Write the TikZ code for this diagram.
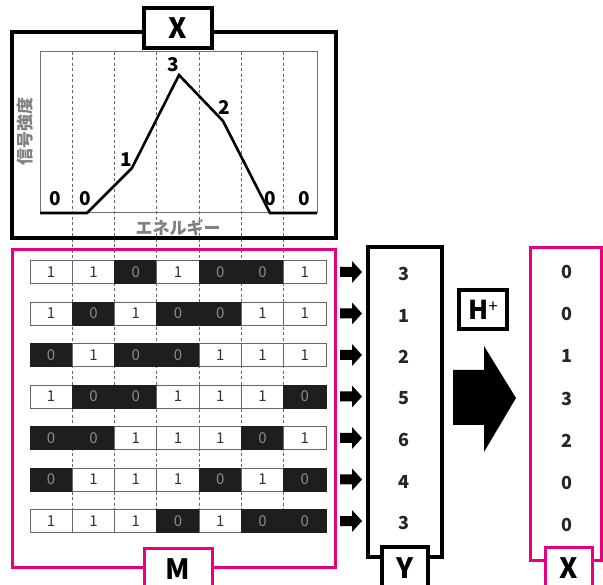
\documentclass[tikz,border=0pt]{standalone}
\usepackage{fontspec}
\setmainfont{Noto Sans CJK JP}
\definecolor{mag}{HTML}{E5007F}
\definecolor{cellblk}{HTML}{1E1E1E}
\begin{document}
\begin{tikzpicture}[x=1pt,y=-1pt,
  frame/.style={draw=black,line width=3.5pt},
  pframe/.style={draw=mag,line width=3pt},
  lab/.style={draw=black,line width=3.5pt,fill=white,inner sep=0pt,
    font=\bfseries\fontsize{28}{28}\selectfont},
  plab/.style={lab,draw=mag,line width=3pt},
  pnum/.style={font=\bfseries\fontsize{19}{19}\selectfont,inner sep=0pt},
  vnum/.style={font=\bfseries\fontsize{18}{18}\selectfont,inner sep=0pt,text=black!85},
  jlab/.style={font=\bfseries\fontsize{17}{17}\selectfont,text=black!50,inner sep=0pt},
  cellone/.style={draw=black!60,line width=0.9pt,fill=white,text=black!80,
    minimum width=42.3pt,minimum height=23pt,inner sep=0pt,font=\fontsize{15}{15}\selectfont},
  cellzero/.style={cellone,fill=cellblk,draw=cellblk,text=black!45},
  grid/.style={dashed,draw=black!60,line width=0.8pt,dash pattern=on 3pt off 2.5pt}
]
\useasboundingbox (0,0) rectangle (603,585);

% dashed guide lines
\foreach \k in {1,...,6}
  \draw[grid] ({30+42.286*\k},52) -- ({30+42.286*\k},510);

% top spectrum frame
\draw[frame] (12,32) rectangle (336,238);
\node[lab,minimum width=68pt,minimum height=40pt] (xlab) at (178,28) {X};
\draw[black!55,line width=1pt] (40,52) rectangle (317,213);
\coordinate (p0) at (40,213);
\coordinate (p1) at (87,213);
\coordinate (p2) at (132,168);
\coordinate (p3) at (179,75);
\coordinate (p4) at (223,121);
\coordinate (p5) at (270,213);
\coordinate (p6) at (317,213);
\draw[line width=2.6pt,line join=miter] (p0) -- (p1) -- (p2) -- (p3) -- (p4) -- (p5) -- (p6);
\node[pnum] (n1) at (55,199) {0};
\node[pnum] (n2) at (85,199) {0};
\node[pnum] (n3) at (126,160) {1};
\node[pnum] (n4) at (173,65) {3};
\node[pnum] (n5) at (224,107) {2};
\node[pnum] (n6) at (270,199) {0};
\node[pnum] (n7) at (304,199) {0};
\node[jlab,rotate=90] (ylabel) at (25,132) {信号強度};
\node[jlab] (xlabel) at (178,228) {エネルギー};

% matrix M
\draw[pframe] (12,250) rectangle (335,567);
\node[plab,minimum width=68pt,minimum height=42pt] (mlab) at (178,569) {M};

\foreach \row [count=\r] in {{1,1,0,1,0,0,1},{1,0,1,0,0,1,1},{0,1,0,0,1,1,1},
    {1,0,0,1,1,1,0},{0,0,1,1,1,0,1},{0,1,1,1,0,1,0},{1,1,1,0,1,0,0}} {
  \foreach \b [count=\c] in \row {
    \ifnum\b=0
      \node[cellzero] (c-\r-\c) at ({30+42.286*(\c-0.5)},{272+41.5*(\r-1)}) {0};
    \else
      \node[cellone] (c-\r-\c) at ({30+42.286*(\c-0.5)},{272+41.5*(\r-1)}) {1};
    \fi
  }
}

% Y column
\draw[frame] (368,247) rectangle (442,557);
\node[lab,minimum width=46pt,minimum height=42pt] (ylab) at (405,568) {Y};
\foreach \v [count=\r] in {3,1,2,5,6,4,3} {
  \coordinate (a-\r) at (340,{272+41.5*(\r-1)});
  \fill (a-\r) ++(0,-5) -- ++(12,0) -- ++(0,-6) -- ++(10,11) -- ++(-10,11) -- ++(0,-6) -- ++(-12,0) -- cycle;
  \node[vnum] (y-\r) at (404,{274+41.5*(\r-1)}) {\v};
}

% H+ and big arrow
\node[lab,minimum width=48pt,minimum height=39pt,font=\bfseries\fontsize{26}{26}\selectfont] (hlab) at (483,309.5)
  {H\raisebox{7pt}{\mdseries\fontsize{17}{17}\selectfont +}};
\coordinate (bt) at (516,398);
\fill (bt) -- (484,346) -- (484,370) -- (453,370) -- (453,425) -- (484,425) -- (484,452) -- cycle;

% right X column
\draw[pframe] (530,248) rectangle (601,560);
\node[plab,minimum width=47pt,minimum height=42pt] (xlab2) at (568.5,568) {X};
\foreach \v [count=\r] in {0,0,1,3,2,0,0}
  \node[vnum] (x-\r) at (567,{272+42.2*(\r-1)}) {\v};
\end{tikzpicture}
\end{document}
